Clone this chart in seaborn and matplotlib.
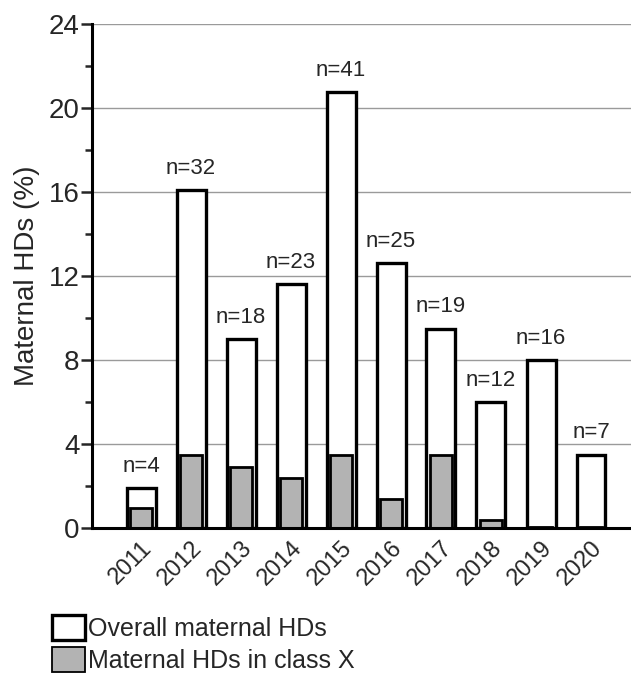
import seaborn as sns
import matplotlib.pyplot as plt
import matplotlib.patches as mpatches
from matplotlib.ticker import MultipleLocator
import pandas as pd

years = ['2011', '2012', '2013', '2014', '2015', '2016', '2017', '2018', '2019', '2020']
overall = [1.9, 16.1, 9.0, 11.6, 20.75, 12.6, 9.5, 6.0, 8.0, 3.5]
class_x = [0.95, 3.5, 2.9, 2.4, 3.5, 1.4, 3.5, 0.4, 0.05, 0.05]
n_labels = ['n=4', 'n=32', 'n=18', 'n=23', 'n=41', 'n=25', 'n=19', 'n=12', 'n=16', 'n=7']

df = pd.DataFrame({'year': years, 'overall': overall, 'class_x': class_x})

sns.set_style('white')
plt.rcParams['font.family'] = ['Liberation Sans', 'DejaVu Sans']

fig = plt.figure(figsize=(6.31, 6.76), dpi=100)
ax = fig.add_axes([92 / 631, 1 - 528 / 676, 1 - 92 / 631, (528 - 24) / 676])

grey = '#b3b3b3'
sns.barplot(data=df, x='year', y='overall', color='white', saturation=1,
            edgecolor='black', linewidth=2.4, width=0.58, ax=ax, zorder=3)
sns.barplot(data=df, x='year', y='class_x', color=grey, saturation=1,
            edgecolor='black', linewidth=2.0, width=0.45, ax=ax, zorder=4)

for i, lab in enumerate(n_labels):
    ax.annotate(lab, (i, overall[i]), xytext=(0, 8), textcoords='offset points',
                ha='center', va='bottom', fontsize=16)

ax.set_ylim(0, 24)
ax.set_xlim(-0.98, 9.8)
ax.yaxis.set_major_locator(MultipleLocator(4))
ax.yaxis.set_minor_locator(MultipleLocator(2))
ax.grid(axis='y', which='major', color='#9a9a9a', linewidth=1.0, zorder=0)
ax.set_axisbelow(True)

for s in ['top', 'right']:
    ax.spines[s].set_visible(False)
for s in ['left', 'bottom']:
    ax.spines[s].set_linewidth(2.2)
    ax.spines[s].set_color('black')
    ax.spines[s].set_zorder(5)

ax.tick_params(axis='y', which='major', left=True, length=8, width=1.8, labelsize=20, pad=1)
ax.tick_params(axis='y', which='minor', left=True, length=5, width=1.8)
ax.tick_params(axis='x', bottom=False, labelsize=17, pad=3)
plt.setp(ax.get_xticklabels(), rotation=45, ha='right', rotation_mode='anchor')

ax.set_xlabel('')
ax.set_ylabel('Maternal HDs (%)', fontsize=20, labelpad=6)

handles = [
    mpatches.Patch(facecolor='white', edgecolor='black', linewidth=2.4, label='Overall maternal HDs'),
    mpatches.Patch(facecolor=grey, edgecolor='black', linewidth=1.3, label='Maternal HDs in class X'),
]
fig.legend(handles=handles, loc='lower left', bbox_to_anchor=(52 / 631, 3 / 676),
           frameon=False, fontsize=18, handlelength=1.3, handleheight=1.15,
           handletextpad=0.15, labelspacing=0.25, borderaxespad=0, borderpad=0)

fig.savefig('out.png', dpi=100, facecolor='white')
